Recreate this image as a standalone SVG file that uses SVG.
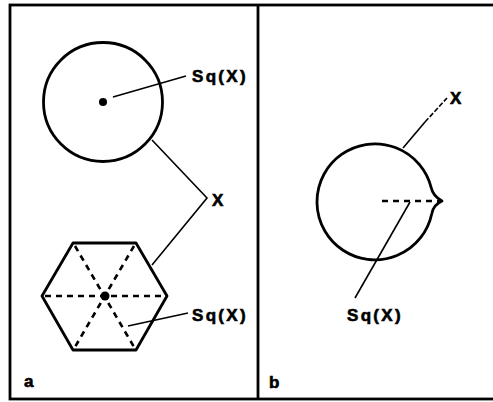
<svg xmlns="http://www.w3.org/2000/svg" width="493" height="402" viewBox="0 0 493 402">
<style>
.frame{fill:none;stroke:#000;stroke-width:2.8}
.shape{fill:none;stroke:#000;stroke-width:2.8;stroke-linejoin:round}
.lead{fill:none;stroke:#000;stroke-width:1.6}
.dash{fill:none;stroke:#000;stroke-width:2.6;stroke-dasharray:6 5}
.lbl{font-family:"Liberation Sans",Arial,sans-serif;font-weight:bold;font-size:17px;letter-spacing:2.3px;fill:#000;stroke:#000;stroke-width:0.6}
.small{font-family:"Liberation Sans",Arial,sans-serif;font-weight:bold;font-size:17px;fill:#000;stroke:#000;stroke-width:0.6}
</style>
<rect width="493" height="402" fill="#fff"/>
<g id="frame">
<rect class="frame" x="10" y="5" width="490" height="394"/>
<line class="frame" x1="258" y1="5" x2="258" y2="399"/>
</g>
<g id="circle-a">
<circle class="shape" cx="103" cy="102" r="59.5"/>
<circle cx="103" cy="102" r="4" fill="#000"/>
</g>
<g id="hexagon-a">
<polygon class="shape" points="42,296 73,243 136,243 167,296 136,350 73,350"/>
<line class="dash" x1="45" y1="296" x2="164" y2="296"/>
<line class="dash" x1="75" y1="246" x2="134" y2="347"/>
<line class="dash" x1="134" y1="246" x2="75" y2="347"/>
<circle cx="105" cy="296" r="4.5" fill="#000"/>
</g>
<g id="circle-b">
<path class="shape" d="M431.3,188 A58 58 0 1 0 431.7,214 Q433,205 442,201 Q433,196 431.3,188 Z"/>
<line class="dash" x1="382" y1="201" x2="440" y2="201"/>
</g>
<g id="connectors">
<line class="lead" x1="113" y1="97" x2="186" y2="76"/>
<polyline class="lead" points="152,140 207,198 152,265"/>
<line class="lead" x1="128" y1="326" x2="188" y2="313"/>
<line class="lead" x1="403" y1="148" x2="425" y2="122"/>
<line class="lead" x1="425" y1="122" x2="447" y2="98" stroke-dasharray="5 2"/>
<line class="lead" x1="410" y1="202" x2="355" y2="298"/>
</g>
<g id="labels">
<text class="lbl" x="192" y="82">Sq(X)</text>
<text class="small" x="212" y="206">X</text>
<text class="lbl" x="192" y="321">Sq(X)</text>
<text class="small" x="24" y="387">a</text>
<text class="small" x="450" y="104">X</text>
<text class="lbl" x="347" y="321">Sq(X)</text>
<text class="small" x="269" y="388">b</text>
</g>
</svg>
